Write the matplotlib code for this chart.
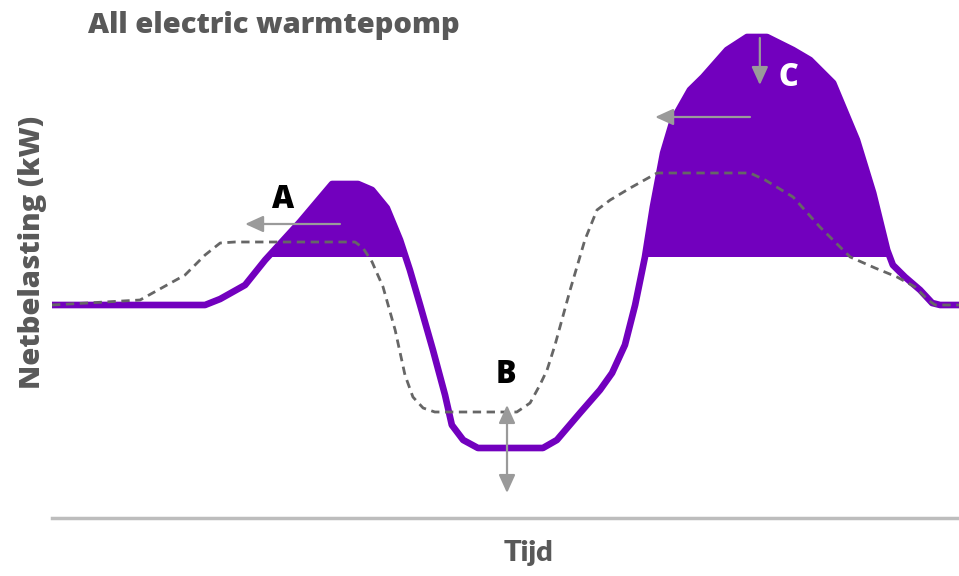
import matplotlib
matplotlib.use("Agg")
import matplotlib.pyplot as plt
import numpy as np

# ---- data (time in hours, load in kW) ----
purple_t = [0, 4.05, 4.45, 5.11, 5.64, 6.56, 7.41, 8.10, 8.47, 8.86, 9.21, 9.47, 9.74,
            10.08, 10.40, 10.58, 10.88, 11.27, 12.99, 13.36, 13.97, 14.50, 14.82, 15.16,
            15.43, 15.69, 15.90, 16.17, 16.43, 16.88, 17.23, 17.86, 18.39, 18.92, 19.61,
            20.06, 20.67, 21.30, 21.73, 22.10, 22.25, 22.57, 22.97, 23.29, 23.50, 24.0]
purple_kw = [4.26, 4.26, 4.38, 4.66, 5.16, 5.92, 6.68, 6.68, 6.56, 6.20, 5.56, 4.96, 4.26,
             3.36, 2.46, 1.86, 1.56, 1.40, 1.40, 1.56, 2.10, 2.56, 2.90, 3.46,
             4.26, 5.22, 6.22, 7.30, 7.96, 8.56, 8.82, 9.36, 9.62, 9.62, 9.36,
             9.16, 8.70, 7.56, 6.50, 5.36, 5.06, 4.82, 4.56, 4.30, 4.26, 4.26]

dashed_t = [0, 2.33, 3.52, 4.05, 4.45, 4.84, 8.02, 8.23, 8.47, 8.76, 9.08, 9.34, 9.55, 9.82,
            10.13, 12.30, 12.65, 12.91, 13.10, 13.31, 13.71, 14.10, 14.42, 14.77, 15.30,
            16.01, 18.47, 18.87, 19.61, 20.32, 21.12, 21.78, 22.36, 22.84, 23.18, 23.37, 24.0]
dashed_kw = [4.26, 4.36, 4.86, 5.26, 5.50, 5.52, 5.52, 5.40, 5.12, 4.62, 3.76, 2.86, 2.42, 2.20,
             2.12, 2.12, 2.30, 2.66, 2.96, 3.46, 4.56, 5.56, 6.16, 6.36, 6.60,
             6.90, 6.90, 6.76, 6.42, 5.82, 5.22, 5.00, 4.82, 4.62, 4.36, 4.26, 4.26]

threshold_kw = 5.22

# annotation arrows: (tail, head) in (hour, kW)
arrow_A = ((7.62, 5.88), (5.11, 5.88))
arrow_C_down = ((18.73, 9.60), (18.73, 8.66))
arrow_C_left = ((18.47, 8.02), (15.96, 8.02))
arrow_B = ((12.04, 1.38), (12.04, 2.26), (12.04, 0.50))
labels = {"A": (6.11, 6.36), "B": (12.01, 2.86), "C": (19.48, 8.80)}

title = "All electric warmtepomp"
xlabel = "Tijd"
ylabel = "Netbelasting (kW)"

# ---- drawing ----
PURPLE = "#7200BE"
GREY_TXT = "#595959"
ARROW = "#9a9a9a"

fig = plt.figure(figsize=(9.59, 5.76), dpi=100)
ax = fig.add_axes([52 / 959, 58 / 576, 907 / 959, 500 / 576])
ax.set_xlim(0, 24)
ax.set_ylim(0, 10)

t = np.array(purple_t)
k = np.array(purple_kw)
ax.fill_between(t, threshold_kw, k, where=k >= threshold_kw, interpolate=True,
                color=PURPLE, lw=0, zorder=2)
ax.plot(purple_t, purple_kw, color=PURPLE, lw=4.8, solid_joinstyle="round",
        solid_capstyle="round", zorder=3)
ax.plot(dashed_t, dashed_kw, color="#666666", lw=2.0, dashes=(3, 2), zorder=4)

ap = dict(arrowstyle="-|>,head_length=1.1,head_width=0.5", mutation_scale=10,
          color=ARROW, lw=1.6, shrinkA=0, shrinkB=0)
for tail, head in (arrow_A, arrow_C_down, arrow_C_left):
    ax.annotate("", xy=head, xytext=tail, arrowprops=ap, zorder=5)
mid, up, down = arrow_B
ax.annotate("", xy=up, xytext=mid, arrowprops=ap, zorder=5)
ax.annotate("", xy=down, xytext=mid, arrowprops=ap, zorder=5)

for name, (x, y) in labels.items():
    ax.text(x, y, name, ha="center", va="center", fontsize=22, fontweight="heavy",
            family=["Open Sans", "DejaVu Sans"], color="white" if name == "C" else "black",
            zorder=6)

for s in ("top", "right", "left"):
    ax.spines[s].set_visible(False)
ax.spines["bottom"].set_color("#bdbdbd")
ax.spines["bottom"].set_linewidth(2.5)
ax.set_xticks([])
ax.set_yticks([])

fig.text(88 / 959, 1 - 25 / 576, title, fontsize=21, fontweight="heavy",
         family="Open Sans", color=GREY_TXT, va="center", ha="left")
fig.text(528 / 959, 1 - 553 / 576, xlabel, fontsize=21, fontweight="heavy",
         family="Lato", color=GREY_TXT, va="center", ha="center")
fig.text(33 / 959, 1 - 252 / 576, ylabel, fontsize=21, fontweight="heavy",
         family="Open Sans", color=GREY_TXT, va="center", ha="center", rotation=90)

fig.savefig("out.png", dpi=100)
